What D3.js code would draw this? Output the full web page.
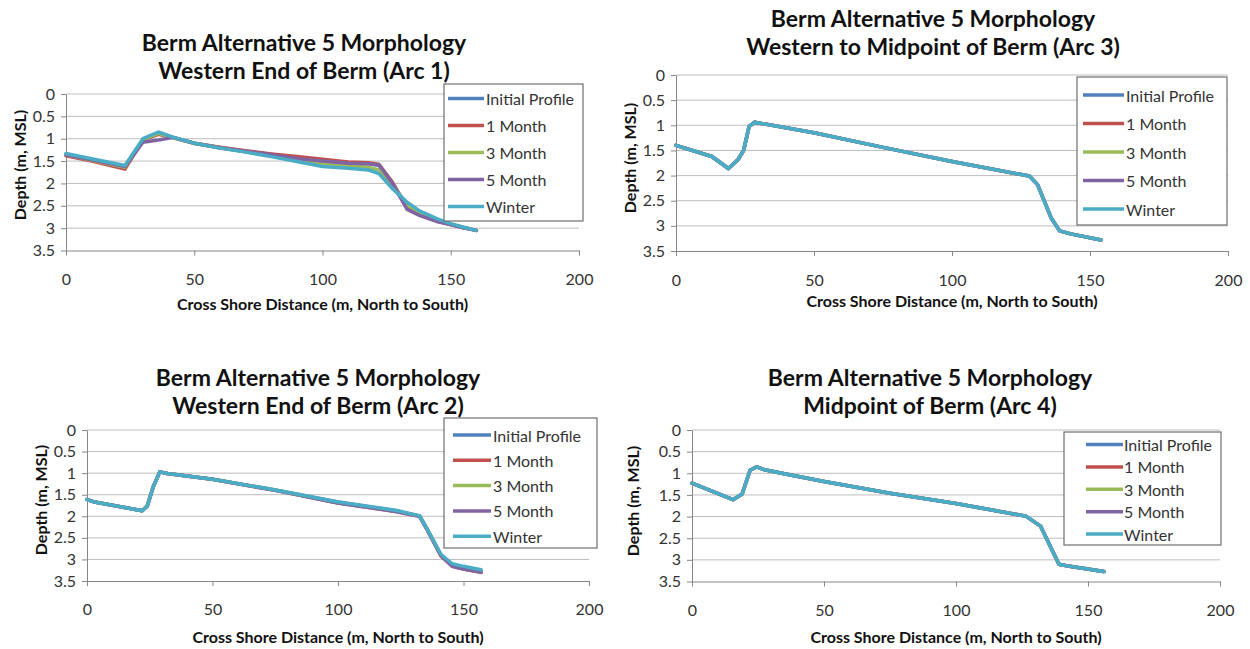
<!DOCTYPE html>
<html>
<head>
<meta charset="utf-8">
<script src="https://cdn.jsdelivr.net/npm/d3@7"></script>
<style>
  body { margin: 0; background: #ffffff; }
  svg { display: block; }
  text { font-family: Lato, "Open Sans", "Liberation Sans", sans-serif; }
</style>
</head>
<body>
<svg id="chart" width="1250" height="649"></svg>
<script>
// Series shared by all four profile plots
const seriesNames = ["Initial Profile", "1 Month", "3 Month", "5 Month", "Winter"];
const seriesColors = ["#4F81BD", "#C0504D", "#9BBB59", "#8064A2", "#4BACC6"];
const depthTicks = [0, 0.5, 1, 1.5, 2, 2.5, 3, 3.5];
const distanceTicks = [0, 50, 100, 150, 200];
const titleLine1 = "Berm Alternative 5 Morphology";
const xAxisTitle = "Cross Shore Distance (m, North to South)";
const yAxisTitle = "Depth (m, MSL)";

// Arc 1 – western end of berm
const arc1Distance = [0, 10, 23, 30, 36, 42, 50, 60, 70, 80, 90, 100, 110, 118, 122, 127, 133, 138, 145, 150, 155, 160];
const arc1Initial  = [1.36, 1.47, 1.62, 1.02, 0.88, 0.98, 1.10, 1.20, 1.28, 1.35, 1.42, 1.48, 1.54, 1.56, 1.60, 1.98, 2.50, 2.68, 2.84, 2.92, 2.99, 3.05];
const arc1Month1   = [1.38, 1.50, 1.68, 1.03, 0.90, 0.98, 1.10, 1.19, 1.27, 1.34, 1.40, 1.46, 1.52, 1.54, 1.57, 1.95, 2.55, 2.70, 2.85, 2.92, 2.99, 3.05];
const arc1Month3   = [1.36, 1.48, 1.64, 1.02, 0.88, 0.98, 1.10, 1.20, 1.29, 1.38, 1.47, 1.55, 1.60, 1.64, 1.70, 2.02, 2.48, 2.65, 2.83, 2.91, 2.98, 3.05];
const arc1Month5   = [1.36, 1.47, 1.62, 1.08, 1.03, 0.97, 1.10, 1.20, 1.28, 1.36, 1.44, 1.50, 1.55, 1.56, 1.58, 1.98, 2.58, 2.72, 2.86, 2.92, 2.99, 3.05];
const arc1Winter   = [1.33, 1.45, 1.60, 1.00, 0.85, 0.97, 1.10, 1.21, 1.30, 1.40, 1.51, 1.62, 1.66, 1.70, 1.78, 2.10, 2.42, 2.62, 2.80, 2.90, 2.98, 3.05];

// Arc 3 – western to midpoint of berm
const arc3Distance = [0, 13, 19, 22.5, 24.5, 26.5, 28.5, 50, 75, 100, 128, 131, 136, 139, 143, 154];
const arc3Initial  = [1.40, 1.62, 1.86, 1.68, 1.50, 1.02, 0.94, 1.15, 1.44, 1.72, 2.01, 2.18, 2.85, 3.10, 3.16, 3.28];
const arc3Month1   = [1.40, 1.62, 1.86, 1.68, 1.50, 1.02, 0.94, 1.15, 1.44, 1.72, 2.01, 2.18, 2.85, 3.10, 3.16, 3.28];
const arc3Month3   = [1.40, 1.62, 1.86, 1.68, 1.50, 1.02, 0.94, 1.15, 1.44, 1.72, 2.01, 2.18, 2.85, 3.10, 3.16, 3.28];
const arc3Month5   = [1.40, 1.62, 1.86, 1.68, 1.50, 1.02, 0.94, 1.15, 1.44, 1.72, 2.01, 2.18, 2.85, 3.10, 3.16, 3.28];
const arc3Winter   = [1.40, 1.62, 1.86, 1.68, 1.50, 1.02, 0.94, 1.15, 1.44, 1.72, 2.01, 2.18, 2.85, 3.10, 3.16, 3.28];

// Arc 2 – western end of berm
const arc2Distance = [0, 3, 22, 24, 26.5, 29, 32, 50, 75, 100, 123, 132.5, 135.5, 141, 145.5, 150, 157];
const arc2Initial  = [1.61, 1.67, 1.87, 1.76, 1.30, 0.97, 1.01, 1.14, 1.39, 1.67, 1.87, 1.99, 2.29, 2.90, 3.14, 3.20, 3.28];
const arc2Month1   = [1.61, 1.67, 1.87, 1.76, 1.30, 0.97, 1.01, 1.14, 1.40, 1.69, 1.89, 2.00, 2.31, 2.92, 3.16, 3.22, 3.30];
const arc2Month3   = [1.61, 1.67, 1.87, 1.76, 1.30, 0.97, 1.01, 1.14, 1.39, 1.68, 1.88, 1.99, 2.30, 2.90, 3.15, 3.21, 3.29];
const arc2Month5   = [1.61, 1.67, 1.87, 1.76, 1.30, 0.97, 1.01, 1.14, 1.40, 1.69, 1.89, 2.00, 2.31, 2.91, 3.16, 3.22, 3.30];
const arc2Winter   = [1.61, 1.67, 1.87, 1.76, 1.30, 0.97, 1.01, 1.14, 1.39, 1.67, 1.86, 1.99, 2.29, 2.88, 3.10, 3.16, 3.24];

// Arc 4 – midpoint of berm
const arc4Distance = [0, 15.5, 19, 22, 24.5, 27.5, 34, 50, 75, 100, 126.5, 132, 139, 143, 156];
const arc4Initial  = [1.23, 1.61, 1.48, 0.93, 0.85, 0.92, 1.00, 1.19, 1.46, 1.70, 1.99, 2.22, 3.10, 3.15, 3.27];
const arc4Month1   = [1.23, 1.61, 1.48, 0.93, 0.85, 0.92, 1.00, 1.19, 1.46, 1.70, 1.99, 2.22, 3.10, 3.15, 3.27];
const arc4Month3   = [1.23, 1.61, 1.48, 0.93, 0.85, 0.92, 1.00, 1.19, 1.46, 1.70, 1.99, 2.22, 3.10, 3.15, 3.27];
const arc4Month5   = [1.23, 1.61, 1.48, 0.93, 0.85, 0.92, 1.00, 1.19, 1.46, 1.70, 1.99, 2.22, 3.10, 3.15, 3.27];
const arc4Winter   = [1.23, 1.61, 1.48, 0.93, 0.85, 0.92, 1.00, 1.19, 1.46, 1.70, 1.99, 2.22, 3.10, 3.15, 3.27];

// Panel layout (plot frame, titles, legend box)
const panels = [
  { subtitle: "Western End of Berm (Arc 1)",
    distance: arc1Distance, depths: [arc1Initial, arc1Month1, arc1Month3, arc1Month5, arc1Winter],
    left: 66, right: 579, top: 94, bottom: 250.5,
    titleX: 304, titleY: 42, yTitleX: 19, yTitleY: 165, xTitleY: 303, xLabelY: 279,
    legend: { x: 444, y: 84, w: 139, h: 137, first: 98.5, step: 27, sx: 4, sl: 36, tx: 42 } },
  { subtitle: "Western to Midpoint of Berm (Arc 3)",
    distance: arc3Distance, depths: [arc3Initial, arc3Month1, arc3Month3, arc3Month5, arc3Winter],
    left: 676, right: 1228, top: 75, bottom: 251,
    titleX: 933, titleY: 18, yTitleX: 629, yTitleY: 158, xTitleY: 300, xLabelY: 280,
    legend: { x: 1077, y: 77, w: 150, h: 148, first: 95, step: 28.5, sx: 6, sl: 41, tx: 49 } },
  { subtitle: "Western End of Berm (Arc 2)",
    distance: arc2Distance, depths: [arc2Initial, arc2Month1, arc2Month3, arc2Month5, arc2Winter],
    left: 87, right: 589, top: 430, bottom: 581,
    titleX: 318, titleY: 377, yTitleX: 40, yTitleY: 500, xTitleY: 636, xLabelY: 609,
    legend: { x: 444, y: 418, w: 153, h: 130, first: 435, step: 25.3, sx: 9, sl: 38, tx: 49 } },
  { subtitle: "Midpoint of Berm (Arc 4)",
    distance: arc4Distance, depths: [arc4Initial, arc4Month1, arc4Month3, arc4Month5, arc4Winter],
    left: 692, right: 1220, top: 430, bottom: 581.5,
    titleX: 930, titleY: 377, yTitleX: 632, yTitleY: 501, xTitleY: 636, xLabelY: 610,
    legend: { x: 1064, y: 432, w: 157, h: 113, first: 444.5, step: 22.4, sx: 22, sl: 37, tx: 60 } }
];

const svg = d3.select("#chart");
const gridColor = "#bdbdbd";
const axisColor = "#868686";
const labelColor = "#333333";
const tickFont = 16;
const strokeW = 3.5;

panels.forEach(p => {
  const g = svg.append("g");
  const x = d3.scaleLinear().domain([0, 200]).range([p.left, p.right]);
  const y = d3.scaleLinear().domain([0, 3.5]).range([p.top, p.bottom]);

  // titles
  [titleLine1, p.subtitle].forEach((t, i) => {
    g.append("text")
      .attr("x", p.titleX).attr("y", p.titleY + i * 28)
      .attr("text-anchor", "middle").attr("dominant-baseline", "central")
      .attr("font-size", 23).attr("font-weight", 700).attr("fill", "#111")
      .text(t);
  });

  // horizontal gridlines
  g.append("g").selectAll("line")
    .data(depthTicks.filter(d => d < 3.5))
    .join("line")
    .attr("x1", p.left).attr("x2", p.right)
    .attr("y1", d => y(d)).attr("y2", d => y(d))
    .attr("stroke", gridColor).attr("stroke-width", 1);

  // depth axis
  const ya = g.append("g").attr("transform", `translate(${p.left},0)`)
    .call(d3.axisLeft(y).tickValues(depthTicks).tickFormat(d => String(d)).tickSizeOuter(0).tickSizeInner(5).tickPadding(6));
  ya.select(".domain").attr("stroke", axisColor);
  ya.selectAll(".tick line").attr("stroke", axisColor);
  ya.selectAll(".tick text").attr("font-size", tickFont).attr("fill", labelColor)
    .attr("font-family", "Lato, 'Open Sans', sans-serif");

  // distance axis along the bottom of the frame
  const xa = g.append("g").attr("transform", `translate(0,${p.bottom})`)
    .call(d3.axisBottom(x).tickValues(distanceTicks).tickFormat(d => String(d)).tickSizeOuter(0).tickSizeInner(5).tickPadding(0));
  xa.select(".domain").attr("stroke", axisColor);
  xa.selectAll(".tick line").attr("stroke", axisColor);
  xa.selectAll(".tick text").attr("font-size", tickFont).attr("fill", labelColor)
    .attr("font-family", "Lato, 'Open Sans', sans-serif")
    .attr("y", p.xLabelY - p.bottom).attr("dy", "0.35em");

  // axis titles
  g.append("text")
    .attr("transform", `translate(${p.yTitleX},${p.yTitleY}) rotate(-90)`)
    .attr("text-anchor", "middle").attr("dominant-baseline", "central")
    .attr("font-size", 16).attr("font-weight", 700).attr("fill", "#111")
    .text(yAxisTitle);
  g.append("text")
    .attr("x", (p.left + p.right) / 2).attr("y", p.xTitleY)
    .attr("text-anchor", "middle").attr("dominant-baseline", "central")
    .attr("font-size", 16).attr("font-weight", 700).attr("fill", "#111")
    .text(xAxisTitle);

  // profile lines, drawn so Winter sits on top
  const line = d3.line().x(d => x(d[0])).y(d => y(d[1]));
  p.depths.forEach((vals, i) => {
    g.append("path")
      .datum(p.distance.map((dx, k) => [dx, vals[k]]))
      .attr("d", line)
      .attr("fill", "none")
      .attr("stroke", seriesColors[i])
      .attr("stroke-width", strokeW)
      .attr("stroke-linejoin", "round")
      .attr("stroke-linecap", "round");
  });

  // legend
  const L = p.legend;
  const lg = g.append("g");
  lg.append("rect")
    .attr("x", L.x).attr("y", L.y).attr("width", L.w).attr("height", L.h)
    .attr("fill", "#fff").attr("stroke", "#6f6f6f").attr("stroke-width", 1.2);
  seriesNames.forEach((name, i) => {
    const yy = L.first + i * L.step;
    lg.append("line")
      .attr("x1", L.x + L.sx).attr("x2", L.x + L.sx + L.sl)
      .attr("y1", yy).attr("y2", yy)
      .attr("stroke", seriesColors[i]).attr("stroke-width", strokeW);
    lg.append("text")
      .attr("x", L.x + L.tx).attr("y", yy)
      .attr("dominant-baseline", "central")
      .attr("font-size", 16).attr("fill", labelColor)
      .text(name);
  });
});
</script>
</body>
</html>
